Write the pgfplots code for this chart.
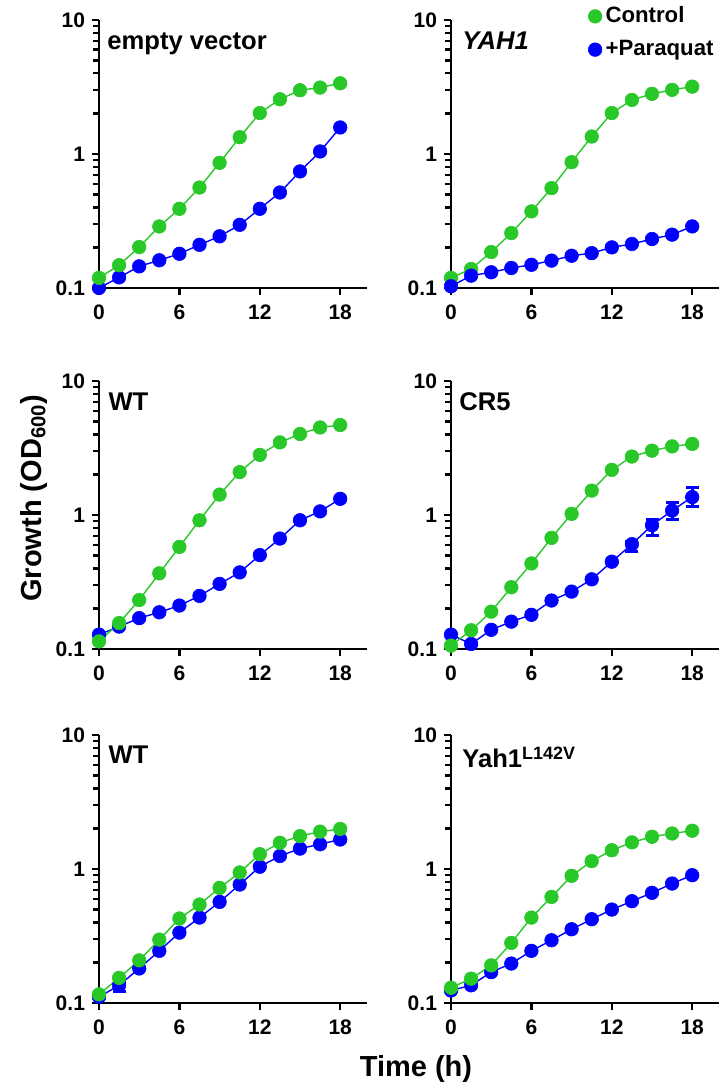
\documentclass[border=0pt]{standalone}
\usepackage{fontspec}
\setmainfont{Liberation Sans}
\usepackage{pgfplots}
\pgfplotsset{compat=1.18}
\definecolor{cgreen}{RGB}{40,200,40}
\definecolor{cblue}{RGB}{0,0,255}
\tikzset{mytitle/.style={anchor=base west, inner sep=0pt, font=\fontsize{12.8}{15}\selectfont\bfseries}}
\begin{document}
\begin{tikzpicture}
\path[use as bounding box] (0,0) rectangle (361.5pt,545pt);
% Row 1 left: empty vector
\begin{axis}[at={(49.5pt,401pt)}, anchor=south west,
    scale only axis, width=134pt, height=134pt,
    ymode=log, ymin=0.1, ymax=10, xmin=0, xmax=20,
    axis lines=left, axis line style={-, line width=1.4pt},
    xtick={0,6,12,18}, ytick={0.1,1,10}, yticklabels={0.1,1,10}, minor ytick={},
    extra y ticks={0.2,0.3,0.4,0.5,0.6,0.7,0.8,0.9,2,3,4,5,6,7,8,9}, extra y tick labels={},
    extra y tick style={major tick length=2.2pt, tick style={black, line width=1.1pt}},
    tick align=outside, major tick length=3.5pt,
    tick style={black, line width=1.2pt}, clip=false,
    tick label style={font=\fontsize{10.5}{12}\selectfont\bfseries},
    xticklabel style={yshift=-1.5pt},
    /pgf/number format/assume math mode=true]
\addplot[color=cblue, mark=*, mark size=3.4pt, line width=0.7pt, mark options={solid, fill=cblue, draw=cblue, line width=0.3pt}] coordinates {(0,0.100) (1.5,0.120) (3,0.145) (4.5,0.161) (6,0.180) (7.5,0.210) (9,0.243) (10.5,0.296) (12,0.390) (13.5,0.516) (15,0.741) (16.5,1.044) (18,1.577)};
\addplot[color=cgreen, mark=*, mark size=3.4pt, line width=0.7pt, mark options={solid, fill=cgreen, draw=cgreen, line width=0.3pt}] coordinates {(0,0.119) (1.5,0.148) (3,0.202) (4.5,0.288) (6,0.390) (7.5,0.562) (9,0.859) (10.5,1.335) (12,2.02) (13.5,2.56) (15,2.99) (16.5,3.13) (18,3.37)};
\node[mytitle] at (axis description cs:0.030,0.888) {empty vector};
\end{axis}
% Row 1 right: YAH1
\begin{axis}[at={(225.5pt,401pt)}, anchor=south west,
    scale only axis, width=134pt, height=134pt,
    ymode=log, ymin=0.1, ymax=10, xmin=0, xmax=20,
    axis lines=left, axis line style={-, line width=1.4pt},
    xtick={0,6,12,18}, ytick={0.1,1,10}, yticklabels={0.1,1,10}, minor ytick={},
    extra y ticks={0.2,0.3,0.4,0.5,0.6,0.7,0.8,0.9,2,3,4,5,6,7,8,9}, extra y tick labels={},
    extra y tick style={major tick length=2.2pt, tick style={black, line width=1.1pt}},
    tick align=outside, major tick length=3.5pt,
    tick style={black, line width=1.2pt}, clip=false,
    tick label style={font=\fontsize{10.5}{12}\selectfont\bfseries},
    xticklabel style={yshift=-1.5pt},
    /pgf/number format/assume math mode=true,
    legend style={at={(axis description cs:0.511,1.058)}, anchor=north west, draw=none, fill=none, inner sep=0pt,
      font=\fontsize{11.1}{13}\selectfont\bfseries, row sep=5.3pt, nodes={inner sep=1pt},
      /tikz/every odd column/.append style={column sep=0.8pt}},
    legend cell align=left,
    legend image code/.code={\draw[#1] plot coordinates {(0cm,0cm)};}]
\addplot[color=cgreen, mark=*, mark size=3.4pt, line width=0.7pt, mark options={solid, fill=cgreen, draw=cgreen, line width=0.3pt}] coordinates {(0,0.119) (1.5,0.1386) (3,0.1855) (4.5,0.257) (6,0.373) (7.5,0.556) (9,0.869) (10.5,1.35) (12,2.02) (13.5,2.53) (15,2.81) (16.5,3.01) (18,3.18)};
\addlegendentry{Control}
\addplot[color=cblue, mark=*, mark size=3.4pt, line width=0.7pt, mark options={solid, fill=cblue, draw=cblue, line width=0.3pt}] coordinates {(0,0.103) (1.5,0.1236) (3,0.131) (4.5,0.141) (6,0.149) (7.5,0.160) (9,0.174) (10.5,0.182) (12,0.201) (13.5,0.213) (15,0.232) (16.5,0.250) (18,0.288)};
\addlegendentry{+Paraquat}
\node[mytitle] at (axis description cs:0.041,0.888) {\itshape YAH1};
\end{axis}
% Row 2 left: WT
\begin{axis}[at={(49.5pt,220.5pt)}, anchor=south west,
    scale only axis, width=134pt, height=134pt,
    ymode=log, ymin=0.1, ymax=10, xmin=0, xmax=20,
    axis lines=left, axis line style={-, line width=1.4pt},
    xtick={0,6,12,18}, ytick={0.1,1,10}, yticklabels={0.1,1,10}, minor ytick={},
    extra y ticks={0.2,0.3,0.4,0.5,0.6,0.7,0.8,0.9,2,3,4,5,6,7,8,9}, extra y tick labels={},
    extra y tick style={major tick length=2.2pt, tick style={black, line width=1.1pt}},
    tick align=outside, major tick length=3.5pt,
    tick style={black, line width=1.2pt}, clip=false,
    tick label style={font=\fontsize{10.5}{12}\selectfont\bfseries},
    xticklabel style={yshift=-1.5pt},
    /pgf/number format/assume math mode=true]
\addplot[color=cblue, mark=*, mark size=3.4pt, line width=0.7pt, mark options={solid, fill=cblue, draw=cblue, line width=0.3pt}] coordinates {(0,0.128) (1.5,0.147) (3,0.170) (4.5,0.188) (6,0.211) (7.5,0.249) (9,0.306) (10.5,0.373) (12,0.502) (13.5,0.667) (15,0.913) (16.5,1.064) (18,1.32)};
\addplot[color=cgreen, mark=*, mark size=3.4pt, line width=0.7pt, mark options={solid, fill=cgreen, draw=cgreen, line width=0.3pt}] coordinates {(0,0.114) (1.5,0.156) (3,0.232) (4.5,0.367) (6,0.578) (7.5,0.913) (9,1.42) (10.5,2.09) (12,2.81) (13.5,3.48) (15,4.02) (16.5,4.50) (18,4.69)};
\node[mytitle] at (axis description cs:0.034,0.888) {WT};
\end{axis}
% Row 2 right: CR5
\begin{axis}[at={(225.5pt,220.5pt)}, anchor=south west,
    scale only axis, width=134pt, height=134pt,
    ymode=log, ymin=0.1, ymax=10, xmin=0, xmax=20,
    axis lines=left, axis line style={-, line width=1.4pt},
    xtick={0,6,12,18}, ytick={0.1,1,10}, yticklabels={0.1,1,10}, minor ytick={},
    extra y ticks={0.2,0.3,0.4,0.5,0.6,0.7,0.8,0.9,2,3,4,5,6,7,8,9}, extra y tick labels={},
    extra y tick style={major tick length=2.2pt, tick style={black, line width=1.1pt}},
    tick align=outside, major tick length=3.5pt,
    tick style={black, line width=1.2pt}, clip=false,
    tick label style={font=\fontsize{10.5}{12}\selectfont\bfseries},
    xticklabel style={yshift=-1.5pt},
    /pgf/number format/assume math mode=true]
\addplot[forget plot, color=cblue, draw=none, mark=none,
  error bars/.cd, y dir=both, y explicit,
  error bar style={draw=cblue, line width=1.5pt},
  error mark options={draw=cblue, line width=1.5pt, mark size=3.25pt, rotate=90}]
  coordinates {(13.5,0.606) += (0,0.03) -= (0,0.07) (15,0.838) += (0,0.085) -= (0,0.13) (16.5,1.08) += (0,0.17) -= (0,0.157) (18,1.36) += (0,0.24) -= (0,0.21)};
\addplot[color=cblue, mark=*, mark size=3.4pt, line width=0.7pt, mark options={solid, fill=cblue, draw=cblue, line width=0.3pt}] coordinates {(0,0.128) (1.5,0.109) (3,0.139) (4.5,0.160) (6,0.180) (7.5,0.230) (9,0.268) (10.5,0.331) (12,0.448) (13.5,0.606) (15,0.838) (16.5,1.08) (18,1.36)};
\addplot[color=cgreen, mark=*, mark size=3.4pt, line width=0.7pt, mark options={solid, fill=cgreen, draw=cgreen, line width=0.3pt}] coordinates {(0,0.106) (1.5,0.138) (3,0.190) (4.5,0.289) (6,0.435) (7.5,0.675) (9,1.02) (10.5,1.52) (12,2.17) (13.5,2.73) (15,3.02) (16.5,3.25) (18,3.39)};
\node[mytitle] at (axis description cs:0.030,0.888) {CR5};
\end{axis}
% Row 3 left: WT
\begin{axis}[at={(49.5pt,43.5pt)}, anchor=south west,
    scale only axis, width=134pt, height=134pt,
    ymode=log, ymin=0.1, ymax=10, xmin=0, xmax=20,
    axis lines=left, axis line style={-, line width=1.4pt},
    xtick={0,6,12,18}, ytick={0.1,1,10}, yticklabels={0.1,1,10}, minor ytick={},
    extra y ticks={0.2,0.3,0.4,0.5,0.6,0.7,0.8,0.9,2,3,4,5,6,7,8,9}, extra y tick labels={},
    extra y tick style={major tick length=2.2pt, tick style={black, line width=1.1pt}},
    tick align=outside, major tick length=3.5pt,
    tick style={black, line width=1.2pt}, clip=false,
    tick label style={font=\fontsize{10.5}{12}\selectfont\bfseries},
    xticklabel style={yshift=-1.5pt},
    /pgf/number format/assume math mode=true]
\addplot[forget plot, color=cblue, draw=none, mark=none,
  error bars/.cd, y dir=both, y explicit,
  error bar style={draw=cblue, line width=1.5pt},
  error mark options={draw=cblue, line width=1.5pt, mark size=3.25pt, rotate=90}]
  coordinates {(1.5,0.1355) += (0,0.010) -= (0,0.013)};
\addplot[color=cblue, mark=*, mark size=3.4pt, line width=0.7pt, mark options={solid, fill=cblue, draw=cblue, line width=0.3pt}] coordinates {(0,0.111) (1.5,0.1355) (3,0.181) (4.5,0.245) (6,0.335) (7.5,0.434) (9,0.568) (10.5,0.766) (12,1.04) (13.5,1.25) (15,1.42) (16.5,1.53) (18,1.66)};
\addplot[color=cgreen, mark=*, mark size=3.4pt, line width=0.7pt, mark options={solid, fill=cgreen, draw=cgreen, line width=0.3pt}] coordinates {(0,0.116) (1.5,0.154) (3,0.208) (4.5,0.297) (6,0.427) (7.5,0.543) (9,0.723) (10.5,0.942) (12,1.29) (13.5,1.57) (15,1.76) (16.5,1.90) (18,1.99)};
\node[mytitle] at (axis description cs:0.034,0.892) {WT};
\end{axis}
% Row 3 right: Yah1 L142V
\begin{axis}[at={(225.5pt,43.5pt)}, anchor=south west,
    scale only axis, width=134pt, height=134pt,
    ymode=log, ymin=0.1, ymax=10, xmin=0, xmax=20,
    axis lines=left, axis line style={-, line width=1.4pt},
    xtick={0,6,12,18}, ytick={0.1,1,10}, yticklabels={0.1,1,10}, minor ytick={},
    extra y ticks={0.2,0.3,0.4,0.5,0.6,0.7,0.8,0.9,2,3,4,5,6,7,8,9}, extra y tick labels={},
    extra y tick style={major tick length=2.2pt, tick style={black, line width=1.1pt}},
    tick align=outside, major tick length=3.5pt,
    tick style={black, line width=1.2pt}, clip=false,
    tick label style={font=\fontsize{10.5}{12}\selectfont\bfseries},
    xticklabel style={yshift=-1.5pt},
    /pgf/number format/assume math mode=true]
\addplot[color=cblue, mark=*, mark size=3.4pt, line width=0.7pt, mark options={solid, fill=cblue, draw=cblue, line width=0.3pt}] coordinates {(0,0.124) (1.5,0.1355) (3,0.170) (4.5,0.197) (6,0.245) (7.5,0.294) (9,0.355) (10.5,0.422) (12,0.498) (13.5,0.575) (15,0.664) (16.5,0.779) (18,0.899)};
\addplot[color=cgreen, mark=*, mark size=3.4pt, line width=0.7pt, mark options={solid, fill=cgreen, draw=cgreen, line width=0.3pt}] coordinates {(0,0.130) (1.5,0.152) (3,0.191) (4.5,0.281) (6,0.434) (7.5,0.619) (9,0.889) (10.5,1.145) (12,1.38) (13.5,1.58) (15,1.74) (16.5,1.84) (18,1.93)};
\node[mytitle] at (axis description cs:0.041,0.877) {Yah1\textsuperscript{L142V}};
\end{axis}
% Axis labels
\node[rotate=90, anchor=base, inner sep=0pt, font=\fontsize{14.5}{17}\selectfont\bfseries] at (20.5pt,296pt) {Growth (OD\textsubscript{600})};
\node[anchor=base, inner sep=0pt, font=\fontsize{14.5}{17}\selectfont\bfseries] at (208pt,6.5pt) {Time (h)};
\end{tikzpicture}
\end{document}
